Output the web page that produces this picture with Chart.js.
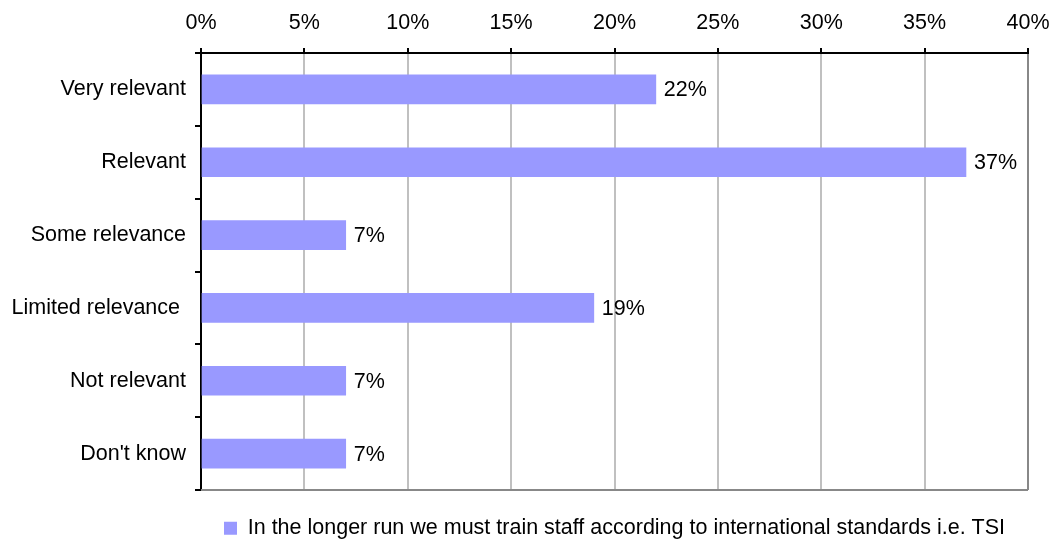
<!DOCTYPE html>
<html>
<head>
<meta charset="utf-8">
<script src="https://cdn.jsdelivr.net/npm/chart.js@4"></script>
<style>
  html, body { margin: 0; padding: 0; background: #fff; }
  #wrap { width: 1056px; height: 542px; }
</style>
</head>
<body>
<div id="wrap"><canvas id="chart"></canvas></div>
<script>
// answers, top to bottom
const categories = ['Very relevant', 'Relevant', 'Some relevance', 'Limited relevance ', 'Not relevant', "Don't know"];
const shares = [22, 37, 7, 19, 7, 7];
const seriesLabel = 'In the longer run we must train staff according to international standards i.e. TSI';
const axisTicks = { min: 0, max: 40, step: 5 };

const FONT = { family: '"Liberation Sans", Arial, sans-serif', size: 21.5 };

// value labels written just past the end of each bar
const barValues = {
  id: 'barValues',
  afterDatasetsDraw(chart) {
    const ctx = chart.ctx;
    const meta = chart.getDatasetMeta(0);
    ctx.save();
    ctx.font = FONT.size + 'px ' + FONT.family;
    ctx.fillStyle = '#000';
    ctx.textAlign = 'left';
    ctx.textBaseline = 'middle';
    meta.data.forEach((bar, i) => {
      ctx.fillText(shares[i] + '%', bar.x + 8, bar.y + 1);
    });
    ctx.restore();
  }
};

// gray line closing the plot at the bottom
const bottomEdge = {
  id: 'bottomEdge',
  beforeDatasetsDraw(chart) {
    const { ctx, chartArea } = chart;
    ctx.save();
    ctx.strokeStyle = '#888888';
    ctx.lineWidth = 2;
    ctx.beginPath();
    ctx.moveTo(chartArea.left, chartArea.bottom);
    ctx.lineTo(chartArea.right, chartArea.bottom);
    ctx.stroke();
    ctx.restore();
  }
};

// fixed axis sizes, no extra room reserved for overhanging labels
function fixSize(prop, value) {
  return scale => {
    scale[prop] = value;
    scale.paddingLeft = scale.paddingRight = 0;
    scale.paddingTop = scale.paddingBottom = 0;
  };
}

new Chart(document.getElementById('chart'), {
  type: 'bar',
  data: {
    labels: categories,
    datasets: [{
      label: seriesLabel,
      data: shares,
      backgroundColor: '#9999ff',
      borderWidth: 0,
      barThickness: 29
    }]
  },
  options: {
    indexAxis: 'y',
    responsive: true,
    maintainAspectRatio: false,
    animation: false,
    layout: { padding: { top: 0, right: 28, bottom: -7, left: 0 } },
    scales: {
      x: {
        position: 'top',
        min: axisTicks.min,
        max: axisTicks.max,
        afterFit: fixSize('height', 53),
        ticks: {
          stepSize: axisTicks.step,
          color: '#000',
          font: FONT,
          padding: 12,
          callback: v => v + '%'
        },
        grid: {
          color: ctx => ctx.tick && ctx.tick.value === axisTicks.max ? '#888888' : '#c0c0c0',
          lineWidth: 2,
          tickColor: '#000',
          tickLength: 5
        },
        border: { color: '#000', width: 2 }
      },
      y: {
        afterFit: fixSize('width', 201),
        ticks: { color: '#000', font: FONT, padding: 9 },
        grid: {
          offset: true,
          drawOnChartArea: false,
          color: '#000',
          lineWidth: 2,
          tickLength: 6
        },
        border: { color: '#000', width: 2 }
      }
    },
    plugins: {
      legend: {
        position: 'bottom',
        fullSize: false,
        labels: {
          color: '#000',
          font: FONT,
          boxWidth: 13,
          boxHeight: 13,
          padding: 27.5
        }
      },
      tooltip: { enabled: false }
    }
  },
  plugins: [barValues, bottomEdge]
});
</script>
</body>
</html>
